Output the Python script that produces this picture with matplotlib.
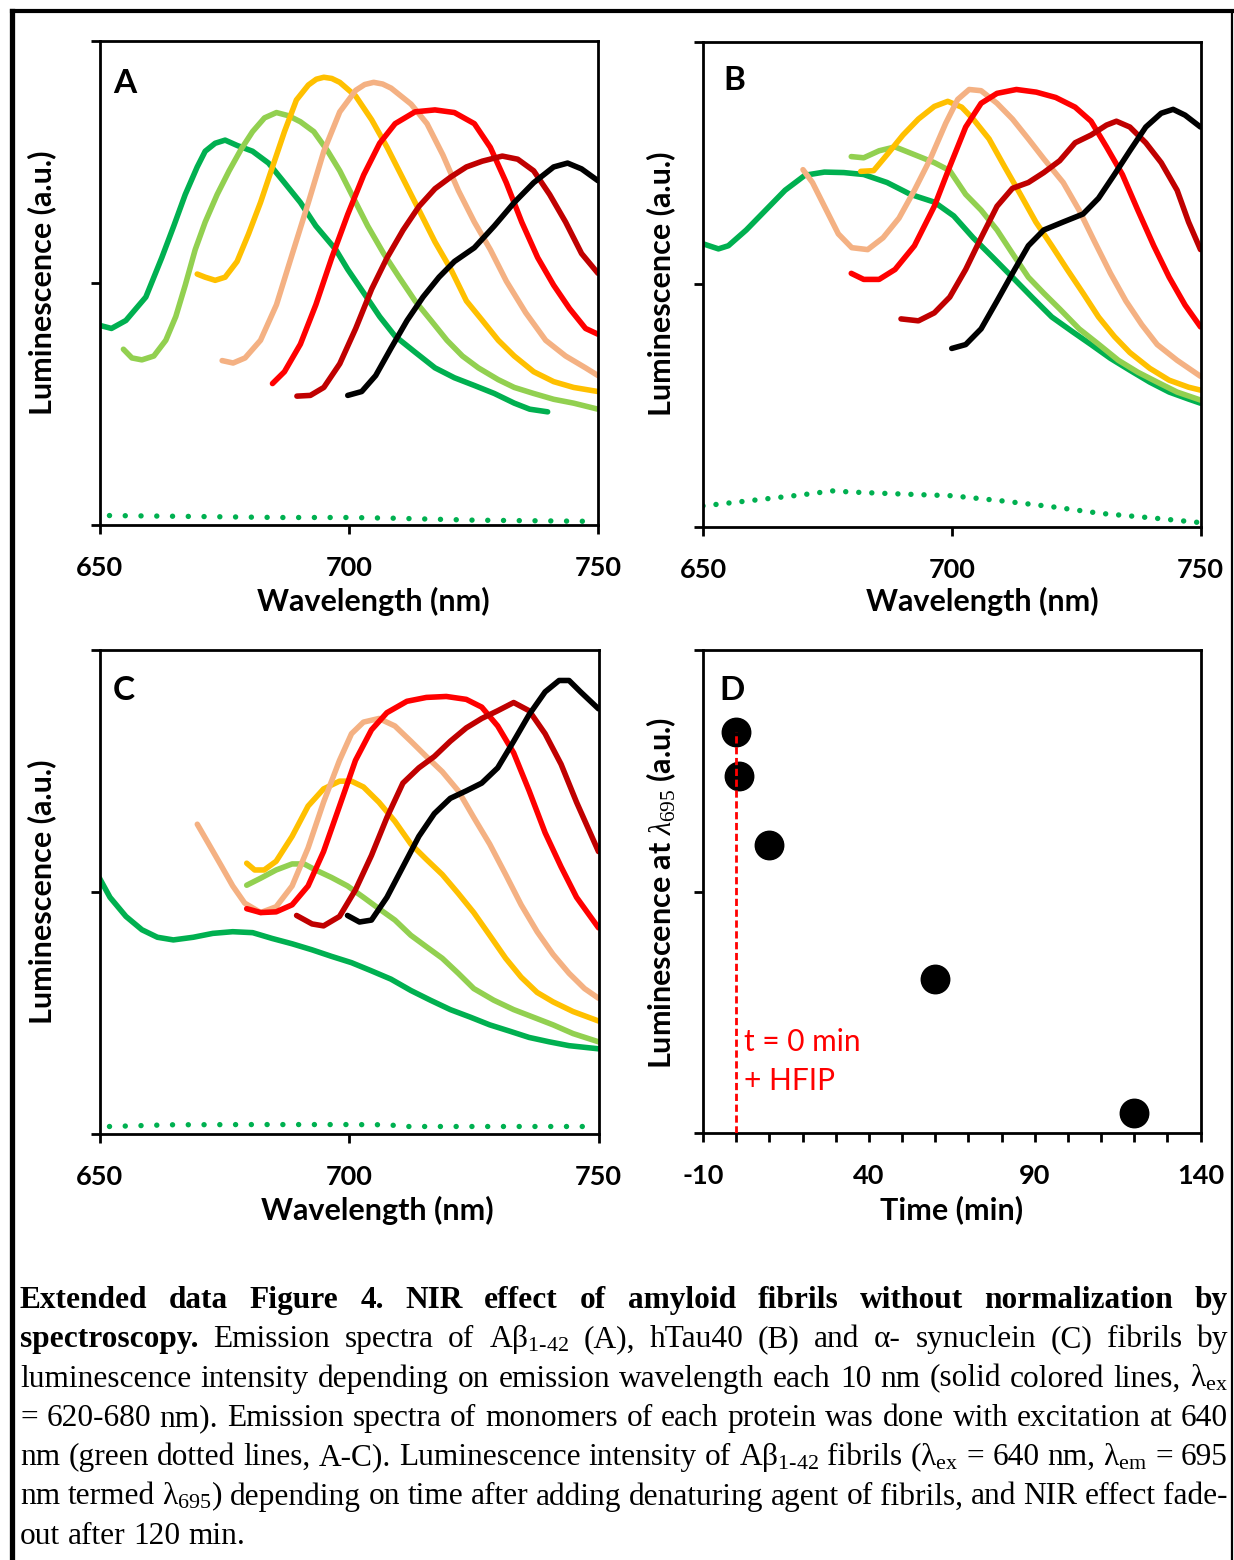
import matplotlib
matplotlib.use("Agg")
import matplotlib.pyplot as plt
from matplotlib.lines import Line2D
from matplotlib.ticker import MultipleLocator

# ─────────────────────────────────────────
#  fonts / style
# ─────────────────────────────────────────
plt.rcParams['font.family'] = ['Lato', 'DejaVu Sans']
plt.rcParams['font.weight'] = 'bold'
plt.rcParams['axes.unicode_minus'] = False
plt.rcParams['mathtext.fontset'] = 'custom'
plt.rcParams['mathtext.rm'] = 'Liberation Serif:normal'
plt.rcParams['mathtext.it'] = 'Liberation Serif:italic:normal'
plt.rcParams['mathtext.bf'] = 'Liberation Serif:bold'

W, H = 1234, 1560

# excitation wavelength -> colour
C620 = '#00B050'
C630 = '#92D050'
C640 = '#FFC000'
C650 = '#F4B183'
C660 = '#FF0000'
C670 = '#C00000'
C680 = '#000000'

# ─────────────────────────────────────────
#  Panel A  (Abeta 1-42)
# ─────────────────────────────────────────
A620_X = [650, 652.4, 655.3, 659.3, 662.5, 664.9, 667.2, 669.6, 671.2, 673.2, 675.2, 677.6, 680.7, 683.9, 687.1,
          690.3, 693.4, 697.4, 699.8, 703.0, 706.2, 709.3, 713.3, 717.3, 721.2, 725.2, 729.2, 733.2, 736.3, 739.9]
A620_Y = [0.824, 0.811, 0.844, 0.941, 1.104, 1.235, 1.365, 1.479, 1.544, 1.577, 1.590, 1.568, 1.544, 1.495, 1.414,
          1.332, 1.235, 1.137, 1.055, 0.958, 0.860, 0.779, 0.713, 0.648, 0.607, 0.575, 0.542, 0.502, 0.477, 0.466]
A630_X = [654.8, 656.5, 658.5, 660.9, 663.3, 665.3, 667.2, 669.2, 671.2, 673.6, 676.0, 678.4, 680.7, 683.1, 685.5,
          687.9, 690.3, 693.0, 695.8, 698.2, 700.6, 703.8, 707.0, 710.1, 713.3, 716.5, 719.7, 722.8, 726.0, 730.0,
          733.2, 737.1, 741.1, 745.1, 750.0]
A630_Y = [0.725, 0.689, 0.681, 0.697, 0.762, 0.860, 0.990, 1.137, 1.251, 1.365, 1.463, 1.552, 1.625, 1.682, 1.704,
          1.691, 1.666, 1.625, 1.544, 1.463, 1.365, 1.235, 1.121, 1.023, 0.925, 0.844, 0.762, 0.697, 0.648, 0.599,
          0.567, 0.542, 0.518, 0.502, 0.477]
A640_X = [669.6, 671.2, 673.2, 675.2, 677.6, 679.9, 682.3, 684.7, 687.1, 689.5, 691.9, 693.5, 695.0, 696.6, 698.2,
          701.4, 704.6, 707.7, 710.9, 714.1, 717.3, 720.5, 723.6, 726.8, 730.0, 733.2, 737.1, 741.1, 745.1, 750.0]
A640_Y = [1.036, 1.023, 1.010, 1.023, 1.088, 1.202, 1.332, 1.479, 1.625, 1.756, 1.818, 1.842, 1.850, 1.845, 1.829,
          1.772, 1.674, 1.560, 1.430, 1.300, 1.169, 1.055, 0.925, 0.844, 0.762, 0.697, 0.632, 0.591, 0.567, 0.550]
A650_X = [674.6, 676.8, 679.2, 682.3, 685.5, 688.7, 691.9, 695.0, 698.2, 701.4, 703.2, 705.0, 706.8, 708.5, 712.5,
          715.7, 718.9, 722.0, 725.2, 728.4, 731.6, 735.5, 739.5, 743.5, 747.5, 750.0]
A650_Y = [0.678, 0.668, 0.689, 0.762, 0.909, 1.121, 1.332, 1.544, 1.707, 1.796, 1.820, 1.829, 1.822, 1.805, 1.739,
          1.658, 1.528, 1.381, 1.251, 1.137, 1.007, 0.876, 0.762, 0.697, 0.648, 0.616]
A660_X = [684.7, 687.1, 690.3, 693.4, 696.6, 699.8, 703.0, 706.2, 709.3, 713.3, 717.3, 721.2, 725.2, 728.4, 731.6,
          734.7, 737.9, 741.1, 744.3, 747.5, 750.0]
A660_Y = [0.583, 0.632, 0.746, 0.909, 1.104, 1.283, 1.446, 1.577, 1.658, 1.707, 1.715, 1.704, 1.658, 1.560, 1.414,
          1.251, 1.104, 0.990, 0.893, 0.811, 0.787]
A670_X = [689.6, 692.3, 695.0, 698.2, 701.4, 704.6, 707.7, 710.9, 714.1, 717.3, 720.5, 723.6, 726.8, 730.8, 733.9,
          737.1, 740.3, 743.5, 746.7, 750.0]
A670_Y = [0.531, 0.534, 0.567, 0.665, 0.811, 0.974, 1.104, 1.218, 1.316, 1.389, 1.438, 1.479, 1.503, 1.524, 1.511,
          1.463, 1.365, 1.251, 1.121, 1.039]
A680_X = [699.8, 702.6, 705.4, 708.5, 711.7, 714.9, 718.1, 721.2, 725.2, 729.2, 733.2, 737.1, 741.1, 743.9, 746.7, 750.0]
A680_Y = [0.534, 0.550, 0.616, 0.730, 0.844, 0.941, 1.023, 1.088, 1.145, 1.235, 1.332, 1.414, 1.479, 1.495, 1.471, 1.422]
A_MONO_X = [652, 670, 686, 700, 709, 725, 749]
A_MONO_Y = [0.037, 0.033, 0.029, 0.029, 0.026, 0.018, 0.013]

# ─────────────────────────────────────────
#  Panel B  (hTau40)
# ─────────────────────────────────────────
B620_X = [650, 653.1, 655.1, 658.7, 662.6, 666.5, 670.5, 674.4, 678.3, 682.3, 687.0, 691.7, 696.5, 700.4, 704.3,
          708.3, 712.2, 716.1, 720.1, 724.0, 728.0, 731.9, 735.8, 739.8, 743.7, 747.6, 750.0]
B620_Y = [1.167, 1.146, 1.159, 1.224, 1.306, 1.388, 1.450, 1.463, 1.461, 1.453, 1.420, 1.371, 1.339, 1.282, 1.192,
          1.110, 1.029, 0.947, 0.865, 0.808, 0.751, 0.694, 0.645, 0.596, 0.555, 0.526, 0.509]
B630_X = [679.8, 682.3, 685.4, 688.6, 692.5, 696.5, 699.6, 702.8, 705.9, 709.1, 712.2, 715.4, 718.5, 721.7, 725.6,
          729.6, 733.5, 737.4, 741.3, 745.3, 750.0]
B630_Y = [1.527, 1.522, 1.551, 1.567, 1.535, 1.502, 1.469, 1.371, 1.306, 1.224, 1.127, 1.029, 0.963, 0.898, 0.816,
          0.751, 0.686, 0.637, 0.596, 0.555, 0.522]
B640_X = [681.7, 684.3, 687.0, 690.2, 693.3, 696.5, 699.2, 702.0, 704.3, 707.5, 710.6, 713.8, 716.9, 720.1, 723.2,
          726.4, 729.5, 732.7, 735.8, 739.8, 743.7, 747.6, 750.0]
B640_Y = [1.466, 1.469, 1.535, 1.616, 1.682, 1.734, 1.755, 1.731, 1.682, 1.600, 1.486, 1.371, 1.257, 1.159, 1.061,
          0.963, 0.865, 0.784, 0.718, 0.653, 0.604, 0.575, 0.563]
B650_X = [670.1, 672.0, 674.4, 677.2, 679.9, 683.1, 686.2, 689.4, 692.5, 695.7, 698.8, 701.2, 703.5, 705.9, 709.1,
          712.2, 715.4, 718.5, 722.4, 725.6, 728.7, 731.9, 735.0, 738.2, 741.3, 745.3, 750.0]
B650_Y = [1.473, 1.420, 1.322, 1.208, 1.151, 1.143, 1.192, 1.273, 1.388, 1.518, 1.665, 1.763, 1.804, 1.799, 1.747,
          1.682, 1.600, 1.518, 1.420, 1.306, 1.176, 1.045, 0.931, 0.833, 0.751, 0.686, 0.620]
B660_X = [679.8, 682.3, 685.4, 688.6, 692.5, 696.5, 699.6, 702.8, 705.9, 709.1, 713.0, 717.0, 720.9, 724.8, 728.0,
          731.1, 734.3, 737.4, 740.6, 743.7, 746.9, 750.0]
B660_Y = [1.045, 1.020, 1.020, 1.061, 1.159, 1.322, 1.486, 1.649, 1.747, 1.788, 1.804, 1.793, 1.771, 1.731, 1.673,
          1.567, 1.453, 1.306, 1.159, 1.029, 0.914, 0.824]
B670_X = [689.8, 693.3, 696.5, 699.6, 702.8, 705.9, 709.1, 712.2, 715.4, 718.5, 721.7, 724.8, 728.0, 731.1, 733.1,
          735.8, 739.0, 742.1, 745.3, 747.6, 750.0]
B670_Y = [0.857, 0.849, 0.882, 0.947, 1.061, 1.192, 1.322, 1.396, 1.420, 1.461, 1.510, 1.584, 1.616, 1.657, 1.673,
          1.649, 1.584, 1.502, 1.388, 1.257, 1.143]
B680_X = [700.0, 702.8, 705.9, 709.1, 712.2, 715.4, 718.5, 722.4, 726.4, 729.5, 732.7, 735.8, 739.0, 742.1, 744.5,
          746.9, 750.0]
B680_Y = [0.735, 0.751, 0.816, 0.931, 1.045, 1.159, 1.224, 1.257, 1.290, 1.355, 1.453, 1.551, 1.649, 1.706, 1.722,
          1.698, 1.649]
B_MONO_X = [650, 670, 676, 680, 690, 700, 710, 720, 730, 740, 750]
B_MONO_Y = [0.085, 0.131, 0.147, 0.142, 0.134, 0.127, 0.106, 0.082, 0.054, 0.036, 0.016]

# ─────────────────────────────────────────
#  Panel C  (alpha-synuclein)
# ─────────────────────────────────────────
C620_X = [650, 652.1, 655.3, 658.5, 661.6, 664.8, 668.8, 672.7, 676.7, 680.7, 684.6, 688.6, 692.6, 696.5, 700.5,
          704.4, 708.4, 712.4, 716.3, 720.3, 724.3, 728.2, 732.2, 736.1, 740.1, 744.1, 750.0]
C620_Y = [1.057, 0.978, 0.899, 0.844, 0.813, 0.802, 0.813, 0.829, 0.836, 0.832, 0.808, 0.786, 0.761, 0.734, 0.708,
          0.675, 0.640, 0.593, 0.553, 0.514, 0.483, 0.451, 0.425, 0.399, 0.381, 0.365, 0.352]
C630_X = [679.5, 682.3, 685.4, 688.6, 691.0, 693.3, 696.5, 699.7, 702.9, 706.0, 709.2, 712.4, 715.5, 718.7, 721.9,
          725.0, 729.0, 733.0, 736.9, 740.9, 744.9, 750.0]
C630_Y = [1.028, 1.057, 1.091, 1.116, 1.116, 1.091, 1.060, 1.025, 0.978, 0.931, 0.884, 0.821, 0.774, 0.726, 0.664,
          0.601, 0.553, 0.514, 0.483, 0.451, 0.415, 0.381]
C640_X = [679.5, 681.1, 683.0, 685.4, 688.6, 691.8, 694.9, 698.1, 700.5, 702.9, 706.0, 709.2, 712.4, 715.5, 718.7,
          721.9, 725.0, 728.2, 731.4, 734.5, 737.7, 740.9, 744.9, 750.0]
C640_Y = [1.119, 1.091, 1.091, 1.127, 1.230, 1.355, 1.426, 1.458, 1.458, 1.434, 1.371, 1.292, 1.198, 1.135, 1.072,
          0.994, 0.915, 0.821, 0.726, 0.648, 0.585, 0.546, 0.506, 0.467]
C650_X = [669.6, 671.9, 674.3, 676.7, 679.1, 682.3, 685.4, 688.6, 691.8, 694.9, 698.1, 700.5, 702.9, 706.0, 709.2,
          712.4, 715.5, 718.7, 721.9, 725.0, 728.2, 731.4, 734.5, 737.7, 740.9, 744.1, 747.2, 750.0]
C650_Y = [1.280, 1.198, 1.112, 1.025, 0.954, 0.915, 0.939, 1.025, 1.182, 1.371, 1.544, 1.654, 1.702, 1.717, 1.686,
          1.623, 1.560, 1.497, 1.418, 1.308, 1.198, 1.072, 0.947, 0.836, 0.742, 0.664, 0.601, 0.561]
C660_X = [679.5, 682.3, 685.4, 688.6, 691.8, 694.9, 698.1, 701.3, 704.5, 707.6, 711.6, 715.5, 719.5, 723.5, 726.6,
          729.8, 733.0, 736.1, 739.3, 742.5, 745.6, 750.0]
C660_Y = [0.931, 0.915, 0.918, 0.947, 1.025, 1.167, 1.355, 1.544, 1.670, 1.741, 1.788, 1.804, 1.808, 1.796, 1.764,
          1.686, 1.575, 1.418, 1.245, 1.104, 0.978, 0.852]
C670_X = [689.5, 692.6, 694.9, 698.1, 701.3, 704.5, 707.6, 710.8, 714.0, 717.1, 720.3, 723.5, 726.6, 729.8, 733.0,
          736.1, 739.3, 742.5, 745.6, 750.0]
C670_Y = [0.903, 0.868, 0.860, 0.899, 1.009, 1.151, 1.308, 1.450, 1.513, 1.560, 1.623, 1.678, 1.717, 1.749, 1.783,
          1.749, 1.654, 1.528, 1.371, 1.167]
C680_X = [699.7, 702.1, 704.5, 707.6, 710.8, 714.0, 717.1, 720.3, 723.5, 726.6, 729.8, 733.0, 736.1, 739.3, 742.1,
          744.1, 746.4, 750.0]
C680_Y = [0.903, 0.876, 0.884, 0.978, 1.104, 1.230, 1.324, 1.387, 1.418, 1.450, 1.513, 1.623, 1.733, 1.827, 1.874,
          1.874, 1.827, 1.757]
C_MONO_X = [652, 664, 680, 700, 708, 711, 749]
C_MONO_Y = [0.031, 0.038, 0.039, 0.039, 0.038, 0.031, 0.031]

# ─────────────────────────────────────────
#  Panel D  (time after HFIP)
# ─────────────────────────────────────────
D_TIME = [0, 1, 10, 60, 120]
D_LUM = [1.662, 1.477, 1.192, 0.637, 0.082]
HFIP_T = 0

WL_TICKS = [650, 700, 750]
TIME_TICKS = [-10, 40, 90, 140]

CAPTION = [
    ("Extended data Figure 4. NIR effect of amyloid fibrils without normalization by", 99),
    (r"spectroscopy. Emission spectra of Aβ$_{\mathrm{1\text{-}42}}$ (A), hTau40 (B) and α- synuclein (C) fibrils by", 1),
    (r"luminescence intensity depending on emission wavelength each 10 nm (solid colored lines, λ$_{\mathrm{ex}}$", 0),
    ("= 620-680 nm). Emission spectra of monomers of each protein was done with excitation at 640", 0),
    (r"nm (green dotted lines, A-C). Luminescence intensity of Aβ$_{\mathrm{1\text{-}42}}$ fibrils (λ$_{\mathrm{ex}}$ = 640 nm, λ$_{\mathrm{em}}$ = 695", 0),
    (r"nm termed λ$_{\mathrm{695}}$) depending on time after adding denaturing agent of fibrils, and NIR effect fade-", 0),
    ("out after 120 min.", 0),
]

# ─────────────────────────────────────────
#  build figure
# ─────────────────────────────────────────
fig = plt.figure(figsize=(W / 100, H / 100), dpi=100)


def px_axes(l, t, r, b):
    return fig.add_axes([l / W, 1 - b / H, (r - l) / W, (b - t) / H])


def style_axes(ax):
    for s in ax.spines.values():
        s.set_linewidth(2.0)
    ax.tick_params(direction='out', length=6.5, width=2.0, labelsize=19.5, pad=16)
    ax.tick_params(which='minor', direction='out', length=6.5, width=2.0)
    ax.set_ylim(0, 2)
    ax.set_yticks([0, 1, 2])
    ax.set_yticklabels([])


def spectra_panel(ax, curves, mono_x, mono_y, gap, letter, lx, ly):
    for x, y, c in curves:
        ax.plot(x, y, color=c, lw=4.0, solid_capstyle='round', solid_joinstyle='round')
    ax.plot(mono_x, mono_y, color=C620, lw=3.9, linestyle=(0, (0.01, gap)), dash_capstyle='round')
    ax.set_xlim(650, 750)
    ax.set_xticks(WL_TICKS)
    style_axes(ax)
    ax.text(lx, ly, letter, transform=ax.transAxes, fontsize=24, fontweight='bold', va='baseline', ha='left')


axA = px_axes(99.5, 41, 598, 524.5)
spectra_panel(axA, [(A620_X, A620_Y, C620), (A630_X, A630_Y, C630), (A640_X, A640_Y, C640),
                    (A650_X, A650_Y, C650), (A660_X, A660_Y, C660), (A670_X, A670_Y, C670),
                    (A680_X, A680_Y, C680)], A_MONO_X, A_MONO_Y, 2.9, 'A', 0.027, 0.892)

axB = px_axes(703, 42, 1200.5, 526.5)
spectra_panel(axB, [(B620_X, B620_Y, C620), (B630_X, B630_Y, C630), (B640_X, B640_Y, C640),
                    (B650_X, B650_Y, C650), (B660_X, B660_Y, C660), (B670_X, B670_Y, C670),
                    (B680_X, B680_Y, C680)], B_MONO_X, B_MONO_Y, 2.4, 'B', 0.040, 0.901)

axC = px_axes(99.5, 650, 598.5, 1134)
spectra_panel(axC, [(C620_X, C620_Y, C620), (C630_X, C630_Y, C630), (C640_X, C640_Y, C640),
                    (C650_X, C650_Y, C650), (C660_X, C660_Y, C660), (C670_X, C670_Y, C670),
                    (C680_X, C680_Y, C680)], C_MONO_X, C_MONO_Y, 2.9, 'C', 0.027, 0.897)

axD = px_axes(703, 650, 1200.5, 1133)
axD.vlines(HFIP_T, 0, D_LUM[0], colors='#FF0000', lw=2.0, linestyles=(0, (2.6, 1.3)), zorder=3)
axD.plot(D_TIME, D_LUM, 'o', color='black', markersize=20.5, zorder=2)
axD.set_xlim(-10, 140)
axD.set_xticks(TIME_TICKS)
axD.xaxis.set_minor_locator(MultipleLocator(10))
style_axes(axD)
axD.text(2.3, 0.375, 't = 0 min', color='#FF0000', fontsize=21.5, fontweight='normal', va='center', ha='left')
axD.text(2.3, 0.215, '+ HFIP', color='#FF0000', fontsize=21.5, fontweight='normal', va='center', ha='left')
axD.text(0.032, 0.896, 'D', transform=axD.transAxes, fontsize=24, fontweight='bold', va='baseline', ha='left')


# axis titles, placed in pixels like the original layout
def fig_label(x, y, s, rot=0):
    fig.text(x / W, 1 - y / H, s, fontsize=22, fontweight='bold', rotation=rot, ha='center', va='center')


fig_label(42, 283, 'Luminescence (a.u.)', 90)
fig_label(661, 284, 'Luminescence (a.u.)', 90)
fig_label(42, 892, 'Luminescence (a.u.)', 90)
fig_label(661, 893, r'Luminescence at $\mathit{\lambda}_{\mathrm{695}}$ (a.u.)', 90)
fig_label(373, 601, 'Wavelength (nm)')
fig_label(982, 601, 'Wavelength (nm)')
fig_label(377, 1210, 'Wavelength (nm)')
fig_label(952, 1210, 'Time (min)')

# outer frame
fig.add_artist(Line2D([11.5 / W, 11.5 / W], [0, 1 - 11 / H], color='black', lw=3.8))
fig.add_artist(Line2D([11.5 / W, 1232 / W], [1 - 11 / H, 1 - 11 / H], color='black', lw=3.0))
fig.add_artist(Line2D([1232 / W, 1232 / W], [0, 1 - 11 / H], color='black', lw=1.6))

# ─────────────────────────────────────────
#  caption, justified like the paper
# ─────────────────────────────────────────
X0, X1 = 20, 1228
CAP_SIZE = 22.6
renderer = fig.canvas.get_renderer()
for i, (line, n_bold) in enumerate(CAPTION):
    y = 1308 + i * 39.3
    words = line.split(' ')
    texts = []
    for j, w in enumerate(words):
        t = fig.text(0, 1 - y / H, w, fontfamily=['Liberation Serif', 'DejaVu Serif'], fontsize=CAP_SIZE,
                     fontweight='bold' if j < n_bold else 'normal', va='baseline', ha='left')
        texts.append(t)
    widths = [t.get_window_extent(renderer).width for t in texts]
    if i < len(CAPTION) - 1:
        gap = (X1 - X0 - sum(widths)) / (len(words) - 1)
    else:
        gap = 0.25 * CAP_SIZE * 100 / 72
    x = X0
    for t, w in zip(texts, widths):
        t.set_x(x / W)
        x += w + gap

fig.savefig('out.png', dpi=100)
